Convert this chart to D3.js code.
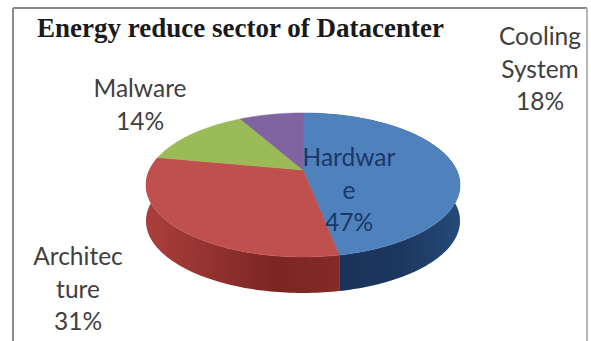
<!DOCTYPE html>
<html>
<head>
<meta charset="utf-8">
<script src="https://cdn.jsdelivr.net/npm/d3@7"></script>
<style>
html,body{margin:0;padding:0;background:#fff;}
svg{display:block;}
</style>
</head>
<body>
<svg id="chart" width="591" height="341"></svg>
<script>
const chartTitle = "Energy reduce sector of Datacenter";
const categories = ["Hardware", "Architecture", "Malware", "Cooling System"];
// Slice sizes. Cooling System takes what the other three leave of the 100;
// its printed label says 18%, which is kept as published in sliceLabels.
const sliceValues = [47, 31, 14, 8];
const sliceColors = ["#4f81bd", "#c0504d", "#9bbb59", "#8064a2"];
const sliceLabels = [
  ["Hardwar", "e", "47%"],
  ["Architec", "ture", "31%"],
  ["Malware", "14%"],
  ["Cooling", "System", "18%"]
];
const labelCenters = [[349, 166], [78, 265], [140, 97], [540, 45]];
const labelColors = ["#1a3767", "#404040", "#404040", "#404040"];

const svg = d3.select("#chart");
const cx = 303, cy = 170, rx = 153.6, ry = 68.9, tilt = 0.208, depth = 36;

// Perspective projection of a point on the unit disc onto the page.
function project(theta, r = 1) {
  const X = r * Math.sin(theta), Y = -r * Math.cos(theta), w = 1 - tilt * Y;
  return [cx + rx * X / w, cy + ry * Y / w];
}
function rimPoints(a0, a1) {
  const n = Math.max(2, Math.ceil((a1 - a0) / 0.02));
  return d3.range(n + 1).map(i => project(a0 + (a1 - a0) * i / n));
}
const line = d3.line();

const arcs = d3.pie().sort(null)(sliceValues);

// Frame around the chart area
const frame = svg.append("g").attr("fill", "none").attr("stroke", "#8c8c8c").attr("stroke-width", 2);
frame.append("line").attr("x1", 13).attr("y1", 8).attr("x2", 13).attr("y2", 341);
frame.append("line").attr("x1", 13).attr("y1", 8).attr("x2", 587).attr("y2", 8);
frame.append("line").attr("x1", 587).attr("y1", 8).attr("x2", 587).attr("y2", 341).attr("stroke", "#b5b5b5");

// Shading of the pie's wall, one gradient per visible slice
const defs = svg.append("defs");
function wallGradient(id, stops) {
  const g = defs.append("linearGradient").attr("id", id)
    .attr("gradientUnits", "userSpaceOnUse")
    .attr("x1", stops.x1).attr("x2", stops.x2).attr("y1", 0).attr("y2", 0);
  stops.colors.forEach((c, i) => g.append("stop")
    .attr("offset", i / (stops.colors.length - 1)).attr("stop-color", c));
}
wallGradient("wall0", {x1: 339, x2: 461, colors: ["#1a3358", "#1c375f", "#264a79"]});
wallGradient("wall1", {x1: 147, x2: 339, colors: ["#a93f3c", "#93322f", "#7b2624", "#842a28"]});

const walls = svg.append("g");
arcs.slice(0, 2).forEach((d, i) => {
  const top = rimPoints(d.startAngle, d.endAngle);
  const bottom = top.map(p => [p[0], p[1] + depth]).reverse();
  walls.append("path")
    .attr("d", line(top.concat(bottom)) + "Z")
    .attr("fill", `url(#wall${i})`);
});

// Top face of the pie
svg.append("g").selectAll("path").data(arcs).join("path")
  .attr("d", d => line([[cx, cy]].concat(rimPoints(d.startAngle, d.endAngle))) + "Z")
  .attr("fill", (d, i) => sliceColors[i])
  .attr("stroke", (d, i) => sliceColors[i])
  .attr("stroke-width", 0.5)
  .attr("aria-label", (d, i) => categories[i]);

// Title
svg.append("text").attr("x", 37).attr("y", 37)
  .attr("font-family", "'Liberation Serif', serif")
  .attr("font-weight", "bold").attr("font-size", 27)
  .attr("fill", "#1a1a1a")
  .text(chartTitle);

// Data labels, wrapped as they are printed
const lineHeight = 32.5;
sliceLabels.forEach((rows, i) => {
  const t = svg.append("text")
    .attr("text-anchor", "middle")
    .attr("font-family", "Lato, 'Open Sans', sans-serif")
    .attr("font-size", 24.5)
    .attr("fill", labelColors[i]);
  rows.forEach((row, j) => t.append("tspan")
    .attr("x", labelCenters[i][0])
    .attr("y", labelCenters[i][1] + j * lineHeight)
    .text(row));
});
</script>
</body>
</html>
